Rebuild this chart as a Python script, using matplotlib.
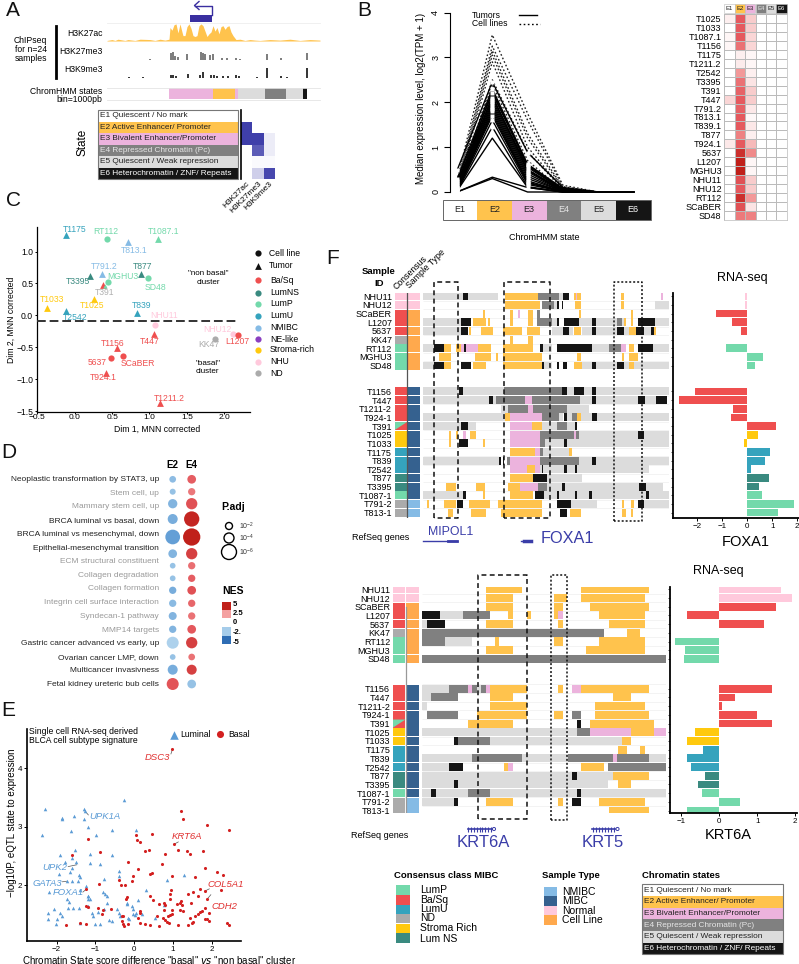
import matplotlib
matplotlib.use('Agg')
import numpy as np
import matplotlib.pyplot as plt
from matplotlib.colors import LinearSegmentedColormap
from matplotlib.patches import Rectangle

plt.rcParams['font.family'] = ['Liberation Sans', 'DejaVu Sans']
plt.rcParams['mathtext.default'] = 'regular'
plt.rcParams['axes.unicode_minus'] = True

W, H = 799, 964

# chromatin states
state_names = ['E1 Quiescent / No mark', 'E2 Active Enhancer/ Promoter',
               'E3 Bivalent Enhancer/Promoter', 'E4 Repressed Chromatin (Pc)',
               'E5 Quiescent / Weak repression', 'E6 Heterochromatin / ZNF/ Repeats']
state_short = ['E1', 'E2', 'E3', 'E4', 'E5', 'E6']
state_colors = ['#FFFFFF', '#FFC34D', '#ECB3DD', '#808080', '#DCDCDC', '#151515']
state_text = ['#222222', '#222222', '#222222', '#E6E6E6', '#222222', '#FFFFFF']

# class colours
BASQ, LUMNS, LUMP, LUMU = '#EF4F4F', '#3A8A80', '#73D9AB', '#35A3BD'
NMIBC, NELIKE, STROMA, NHU, ND = '#85BBE5', '#8A3FC0', '#FFC90E', '#FFC9DC', '#ABABAB'
MIBC_C, NORMAL_C, CELL_C = '#35618F', '#FFC9DC', '#FFA94D'

# panel A
h3k27ac_pos = [107, 112, 115, 118, 125, 128, 135, 140, 150, 155, 160, 165, 169, 170, 172, 174, 176, 178, 180,
               182, 183, 185, 187, 189, 191, 193, 195, 197, 199, 201, 203, 205, 207, 209, 211, 213, 215, 217,
               219, 221, 223, 225, 227, 229, 231, 233, 236, 240, 245, 250, 255, 260, 270, 280, 290, 300, 310, 320]
h3k27ac_val = [.03, .08, .03, .1, .03, .08, .03, .1, .08, .03, .1, .05, .1, .75, .6, .9, .95, .45, .95, .5,
               .3, .3, .8, .95, .7, .3, .25, .3, .85, .95, .85, .55, .25, .4, .5, .85, .55, .75, .4, .8, .85,
               .65, .8, .85, .5, .3, .08, .1, .03, .08, .05, .03, .08, .05, .1, .03, .08, .05]
h3k27me3_pos = [150, 171, 173, 175, 178, 187, 201, 203, 205, 210, 213, 222, 227, 236, 240, 267, 281, 307]
h3k27me3_val = [.1, .8, .9, .4, .3, .6, .9, .8, .7, .5, .6, .2, .2, .2, .1, .65, .2, .75]
h3k9me3_pos = [129, 143, 171, 173, 176, 188, 200, 203, 211, 214, 217, 223, 228, 236, 239, 257, 267, 281, 287, 307]
h3k9me3_val = [.1, .05, .3, .25, .2, .4, .3, .6, .3, .25, .2, .2, .2, .3, .2, .05, 1, .2, .1, 1]
hmm_start = [169, 213, 235, 238, 265, 286, 303]
hmm_end = [213, 235, 238, 265, 286, 303, 307]
hmm_state = [2, 1, 2, 4, 3, 4, 5]
marks = ['H3K27ac', 'H3K27me3', 'H3K9me3']
emission = [[0, 0, 0], [1, 0, 0], [1, 1, .1], [0, .85, .1], [0, .03, .03], [0, .25, .95]]

# panel B
tumor_e1 = [.48, .28, .25, .2, .15, .12, .1, .08, .06, .05, .04, .03, .02, .02, .0, .0, .1, .06, .04]
tumor_e2 = [2.45, 2.3, 2.2, 2.1, 2.05, 2.0, 1.95, 1.9, 1.85, 1.8, 1.7, 1.6, 1.45, 1.2, .33, .3, 2.25, 2.15, 1.75]
tumor_e3 = [.88, .62, .6, .55, .5, .45, .4, .35, .3, .25, .2, .17, .12, .1, .1, .0, .58, .48, .22]
tumor_e4 = [.1, .08, .06, .05, .04, .03, .03, .02, .02, .01, .01, .01, 0, 0, 0, 0, .04, .03, .01]
cell_e1 = [.25, .2, .15, .1, .05, .02, .05, .02]
cell_e2 = [3.5, 3.25, 3.15, 3.05, 2.9, 2.5, 2.4, 2.3]
cell_e3 = [1.75, 1.6, 1.3, 1.2, 1.0, .9, .7, .5]
cell_e4 = [.15, .12, .1, .08, .06, .05, .03, .02]
heat_samples = ['T1025', 'T1033', 'T1087.1', 'T1156', 'T1175', 'T1211.2', 'T2542', 'T3395', 'T391', 'T447',
                'T791.2', 'T813.1', 'T839.1', 'T877', 'T924.1', '5637', 'L1207', 'MGHU3', 'NHU11', 'NHU12',
                'RT112', 'SCaBER', 'SD48']
heat_e1 = [.05, 0, .03, .03, 0, 0, 0, 0, 0, .12, 0, 0, 0, 0, .07, 0, 0, 0, 0, 0, 0, 0, 0]
heat_e2 = [.65, .65, .65, .5, .05, .06, .3, .5, .6, .65, .6, .65, .65, .4, .65, .9, 1, 1, .7, .65, .9, .7, .45]
heat_e3 = [.15, .15, .12, .12, .03, .03, .05, .08, .15, .15, .07, .02, .07, .05, .2, .35, .03, .03, .15, .15,
           .3, .08, .4]

# panel C
c_names = ['T1175', 'RT112', 'T813.1', 'T1087.1', 'T791.2', 'T877', 'T3395', 'MGHU3', 'T391', 'SD48', 'T1033',
           'T1025', 'T2542', 'T839', 'NHU11', 'T447', 'NHU12', 'L1207', 'KK47', 'T1156', '5637', 'SCaBER',
           'T924.1', 'T1211.2']
c_x = [-.12, .43, .71, 1.12, .36, .89, .20, .45, .38, .98, -.37, .26, -.12, .83, 1.07, 1.06, 2.12, 2.19, 1.87,
       .56, .49, .64, .42, 1.14]
c_y = [1.26, 1.20, 1.15, 1.20, .65, .65, .62, .52, .48, .58, .12, .26, .07, .04, -.15, -.30, -.29, -.31, -.37,
       -.51, -.67, -.64, -.90, -1.38]
c_marker = ['^', 'o', '^', '^', '^', '^', '^', 'o', '^', 'o', '^', '^', '^', '^', 'o', '^', 'o', 'o', 'o', '^',
            'o', 'o', '^', '^']
c_color = [LUMU, LUMP, NMIBC, LUMP, NMIBC, LUMNS, LUMNS, LUMP, BASQ, LUMP, STROMA, STROMA, LUMU, LUMU, NHU, BASQ,
           NHU, BASQ, ND, BASQ, BASQ, BASQ, BASQ, BASQ]
c_label_x = [0, .42, .79, 1.19, .39, .91, .04, .64, .40, 1.08, -.30, .23, 0, .89, 1.19, 1.0, 1.91, 2.18, 1.79,
             .51, .30, .84, .38, 1.26]
c_label_y = [1.35, 1.31, 1.01, 1.31, .76, .76, .53, .61, .36, .43, .25, .15, -.04, .15, -.01, -.41, -.215, -.41,
             -.455, -.435, -.74, -.75, -.97, -1.30]
c_label_color = [LUMU, LUMP, NMIBC, LUMP, NMIBC, LUMNS, LUMNS, LUMP, '#B0B0B0', LUMP, STROMA, STROMA, LUMU, LUMU,
                 NHU, BASQ, NHU, BASQ, ND, BASQ, BASQ, BASQ, BASQ, BASQ]
legend_c_names = ['Ba/Sq', 'LumNS', 'LumP', 'LumU', 'NMIBC', 'NE-like', 'Stroma-rich', 'NHU', 'ND']
legend_c_colors = [BASQ, LUMNS, LUMP, LUMU, NMIBC, NELIKE, STROMA, NHU, ND]

# panel D
d_terms = ['Neoplastic transformation by STAT3, up', 'Stem cell, up', 'Mammary stem cell, up',
           'BRCA luminal vs basal, down', 'BRCA luminal vs mesenchymal, down', 'Epithelial-mesenchymal transition',
           'ECM structural constituent', 'Collagen degradation', 'Collagen formation',
           'Integrin cell surface interaction', 'Syndecan-1 pathway', 'MMP14 targets',
           'Gastric cancer advanced vs early, up', 'Ovarian cancer LMP, down', 'Multicancer invasivness',
           'Fetal kidney ureteric bub cells']
d_term_color = ['#222222', '#999999', '#999999', '#222222', '#222222', '#222222', '#999999', '#999999', '#999999',
                '#999999', '#999999', '#999999', '#222222', '#222222', '#222222', '#222222']
d_size_e2 = [6.7, 6, 9.3, 10, 14.7, 8.7, 5.7, 5.7, 7.3, 7.3, 8, 7.3, 12, 5.7, 10, 12]
d_size_e4 = [8.7, 7.3, 11.3, 15.3, 17.3, 11.3, 7.3, 7.3, 8.7, 7.3, 7.3, 8.7, 11.3, 6.7, 10, 8.7]
d_nes_e2 = [-2.2, -2, -2.5, -2.7, -3.2, -2.5, -2, -2, -2.7, -2.3, -2.5, -2.5, -1.5, -2, -2.7, 3.4]
d_nes_e4 = [3.2, 2.6, 3.5, 4.8, 5, 4, 2.8, 3.2, 3.5, 3, 2.7, 3.3, 4, 2.7, 4, -2]
padj_labels = ['$10^{-2}$', '$10^{-4}$', '$10^{-6}$']
padj_sizes = [7, 10, 15]

# panel E
lum_x = [-2.30, -2.38, -1.87, -1.86, -1.55, -1.29, -1.27, -1.29, -1.18, -1.64, -.98, -.56, -.25, .05, -1.52, -1.91,
         -1.60, -1.78, -1.50, -1.61, -1.93, -1.65, -1.42, -1.39, -1.15, -1.15, -.88, -.56, -.40, -.38, -1.74, -1.61,
         -1.44, -.77, -1.24, -2.20, -1.39, -1.20, -1.18, -1.20, -1.15, -.79, -.75, -.71, -1.74, -1.67, -1.57, -1.41,
         -1.70, -1.18, -2.22, -2.23, -2.07, -1.91, -1.87, -1.98, -2.01, -1.39, -1.08, -1.07, -1.02, -.88, -.92, -.77,
         -.71, -.66, -.56, -.45, -.40, -.36, -.17, -.19, -.15, -.12, -.06, -.03, -.02, .05, .09, .20, .31, .54, .76,
         .84, 1.30, .03]
lum_y = [3.30, 2.85, 3.15, 3.13, 3.18, 3.30, 3.27, 3.13, 3.00, 2.93, 2.85, 2.94, 3.45, 2.95, 2.60, 2.51, 2.47, 2.40,
         2.39, 2.29, 2.20, 2.22, 2.18, 2.15, 2.53, 2.38, 2.36, 2.51, 2.24, 2.16, 2.07, 2.08, 2.07, 2.10, 1.99, 1.88,
         1.92, 1.82, 1.81, 1.76, 1.76, 1.89, 1.86, 1.82, 1.77, 1.72, 1.62, 1.62, 1.62, 1.64, 1.52, 1.43, 1.60, 1.52,
         1.48, 1.42, 1.34, 1.35, 1.52, 1.48, 1.34, 1.34, 1.54, 1.60, 1.70, 1.41, 1.40, 1.60, 1.52, 1.48, 1.70, 1.68,
         1.45, 1.42, 1.64, 1.59, 1.51, 1.52, 1.75, 1.51, 1.92, 1.45, 1.66, 2.09, 2.18, 1.49]
bas_x = [.99, 1.20, 1.27, 1.87, 2.44, .47, .05, .07, .16, -1.20, 1.03, 1.12, .27, .39, .81, 1.36, 1.45, 1.79, -.88,
         -1.60, -.15, .73, .11, 1.82, 2.13, 2.29, .41, .46, .99, -.02, -.38, 1.56, -.90, -.34, -.23, -.06, .94, .93,
         -1.24, 1.38, 1.53, 1.69, 1.82, 2.24, .41, 1.66, 1.89, -.18, -.22, .49, .93, .65, .78, .81, 1.10, 1.19, 1.23,
         1.20, 1.46, -1.24, -1.20, -.93, -.81, -.59, .15, .77, .99, 1.19, 1.27, 1.82, 1.76, 1.70, 1.64, 1.56, 1.45,
         1.93, .99, .93, .87, .59, .14, -.83, -.28, -.32, .11, .74, .80, .84, 1.82, 1.88, 1.93, 1.51, 1.50, 1.12,
         1.40, .41, .63, .89, -1.76, -1.39, -1.24, -.31, -.28, -.26, -.15, .15, .27, 2.39, 2.44]
bas_y = [4.32, 3.26, 3.13, 3.02, 2.95, 2.88, 2.85, 2.78, 2.74, 2.79, 2.70, 2.61, 2.59, 2.60, 2.54, 2.58, 2.54, 2.58,
         2.57, 2.51, 2.39, 2.36, 2.28, 2.30, 2.22, 2.17, 2.20, 2.21, 2.16, 2.16, 2.09, 2.15, 2.03, 2.01, 2.01, 2.07,
         1.92, 1.86, 1.93, 1.86, 1.89, 1.94, 1.90, 1.92, 1.82, 1.81, 1.77, 1.80, 1.77, 1.75, 1.76, 1.68, 1.70, 1.66,
         1.68, 1.70, 1.66, 1.73, 1.70, 1.64, 1.63, 1.61, 1.58, 1.59, 1.56, 1.58, 1.58, 1.58, 1.57, 1.62, 1.57, 1.54,
         1.51, 1.48, 1.45, 1.53, 1.51, 1.49, 1.47, 1.48, 1.52, 1.51, 1.48, 1.48, 1.45, 1.44, 1.41, 1.38, 1.43, 1.42,
         1.40, 1.37, 1.35, 1.32, 1.32, 1.32, 1.31, 1.35, 1.32, 1.36, 1.34, 1.39, 1.34, 1.30, 1.34, 1.36, 1.34, 1.35,
         1.32]
gene_names = ['DSC3', 'UPK1A', 'KRT6A', 'UPK2', 'GATA3', 'FOXA1', 'COL5A1', 'CDH2']
gene_x = [.59, -.75, 1.37, -2.05, -2.25, -1.70, 2.37, 2.33]
gene_y = [4.18, 3.17, 2.83, 2.31, 2.03, 1.875, 2.02, 1.64]
gene_from_x = [.95, -1.18, 1.14, -1.70, -1.85, -1.32, 1.94, 1.98]
gene_from_y = [4.24, 3.20, 2.74, 2.32, 2.06, 1.885, 1.94, 1.84]
gene_to_x = [.99, -1.27, 1.03, -1.48, -1.74, -1.24, 1.82, 1.89]
gene_to_y = [4.32, 3.27, 2.70, 2.35, 2.07, 1.93, 1.90, 1.77]
gene_color = ['#E03030', '#5B9BD5', '#E03030', '#5B9BD5', '#5B9BD5', '#5B9BD5', '#E03030', '#E03030']

# panel F
f_samples = ['NHU11', 'NHU12', 'SCaBER', 'L1207', '5637', 'KK47', 'RT112', 'MGHU3', 'SD48', 'T1156', 'T447',
             'T1211-2', 'T924-1', 'T391', 'T1025', 'T1033', 'T1175', 'T839', 'T2542', 'T877', 'T3395', 'T1087-1',
             'T791-2', 'T813-1']
f_class = [NHU, NHU, BASQ, BASQ, BASQ, ND, LUMP, LUMP, LUMP, BASQ, BASQ, BASQ, BASQ, BASQ, STROMA, STROMA, LUMU,
           LUMU, LUMU, LUMNS, LUMNS, LUMP, ND, ND]
f_rna_colors = f_class[:22] + [LUMP, LUMP]
f_type = [NORMAL_C, NORMAL_C] + [CELL_C] * 7 + [MIBC_C] * 13 + [NMIBC] * 2
foxa1_rna = [-.1, -.1, -1.24, -.62, -.27, 0, -.87, .62, .31, -2.1, -2.75, -.56, -.65, 1.15, .43, -.15, .9, .71, .13,
             .87, .45, .6, 1.87, 1.23]
krt6a_rna = [1.63, 1.92, 1.5, -.84, 1.18, 0, -1.16, -.89, -.93, 1.39, .41, .07, .99, 1.39, -.65, -.84, -.44, -.86,
             -.74, -.37, -.57, -.45, .55, -.84]

foxa1_segs = [
    [(309, 534, 5), (428, 444, 6), (555, 655, 2), (655, 716, 4), (716, 730, 5), (730, 746, 6), (762, 768, 2),
     (768, 772, 3), (772, 782, 2), (902, 913, 2), (1023, 1029, 3)],
    [(555, 660, 2), (665, 702, 4), (702, 710, 5), (712, 717, 6), (725, 730, 6), (766, 782, 2), (902, 913, 2),
     (1004, 1046, 5)],
    [(489, 494, 2), (570, 580, 2), (595, 600, 3), (625, 640, 2), (650, 660, 4), (777, 782, 2), (933, 938, 2)],
    [(309, 423, 5), (423, 454, 6), (459, 498, 2), (504, 510, 2), (570, 580, 2), (625, 640, 2), (650, 695, 4),
     (695, 712, 5), (712, 717, 6), (731, 777, 6), (777, 816, 5), (816, 827, 6), (827, 892, 5), (892, 907, 4),
     (907, 912, 5), (912, 918, 2), (933, 938, 2), (953, 1004, 6), (1004, 1046, 5)],
    [(309, 423, 5), (423, 444, 6), (448, 453, 2), (484, 520, 2), (550, 605, 2), (620, 660, 2), (695, 730, 5),
     (730, 746, 6), (746, 760, 5), (762, 782, 2), (786, 816, 5), (816, 827, 6), (827, 892, 5), (892, 913, 6),
     (913, 927, 5), (927, 948, 2), (948, 973, 6), (973, 993, 5), (993, 1003, 6), (1003, 1008, 2)],
    [(570, 580, 2), (625, 640, 2)],
    [(309, 342, 5), (342, 373, 6), (373, 393, 2), (408, 423, 2), (423, 433, 3), (433, 438, 6), (438, 473, 3),
     (473, 514, 2), (550, 640, 2), (660, 670, 6), (670, 695, 5), (711, 817, 6), (817, 868, 5), (868, 903, 4),
     (903, 918, 3), (927, 943, 2), (953, 999, 6), (999, 1046, 5)],
    [(358, 394, 2), (464, 514, 2), (528, 534, 2), (550, 666, 2), (771, 782, 2), (907, 912, 2), (927, 953, 2)],
    [(309, 342, 5), (342, 373, 6), (373, 393, 2), (423, 454, 6), (459, 498, 2), (550, 666, 2), (666, 671, 6),
     (671, 696, 5), (712, 717, 6), (730, 741, 6), (762, 787, 2), (787, 816, 5), (816, 827, 6), (827, 892, 5),
     (892, 913, 6), (913, 927, 5), (927, 943, 2), (943, 1046, 5)],
    [(309, 418, 5), (418, 428, 6), (428, 553, 5), (553, 726, 4), (726, 742, 6), (742, 761, 5), (761, 792, 6),
     (792, 816, 5), (816, 827, 6), (827, 1046, 5)],
    [(309, 508, 5), (508, 519, 6), (519, 529, 5), (529, 615, 4), (615, 635, 3), (635, 781, 4), (781, 816, 5),
     (816, 827, 6), (827, 953, 5), (953, 974, 6), (974, 1008, 5), (1008, 1040, 6)],
    [(544, 564, 5), (564, 625, 4), (625, 640, 3), (640, 741, 4), (741, 807, 5)],
    [(309, 555, 5), (555, 570, 2), (570, 666, 3), (666, 716, 4), (716, 730, 5), (731, 741, 6), (741, 756, 5),
     (756, 771, 4), (771, 782, 2), (782, 816, 5), (816, 832, 6), (832, 1046, 5)],
    [(309, 423, 5), (423, 444, 6), (444, 468, 5), (570, 635, 3), (635, 666, 2), (666, 711, 5), (711, 741, 4),
     (741, 766, 5), (766, 771, 6)],
    [(388, 393, 2), (408, 413, 2), (428, 438, 3), (449, 469, 2), (570, 660, 3), (660, 761, 4), (761, 767, 3),
     (767, 777, 4), (777, 953, 5), (953, 973, 6), (973, 1046, 5)],
    [(388, 393, 2), (418, 444, 6), (489, 494, 2), (570, 660, 3), (660, 675, 4), (675, 731, 5), (731, 741, 6),
     (741, 1046, 5)],
    [(570, 646, 2), (646, 660, 3), (660, 670, 4), (670, 746, 5), (746, 756, 2)],
    [(309, 538, 5), (538, 544, 6), (548, 553, 6), (560, 570, 4), (570, 660, 3), (660, 777, 4), (777, 816, 5),
     (816, 827, 6), (827, 1046, 5)],
    [(570, 620, 3), (620, 646, 2), (646, 660, 3), (660, 665, 5), (665, 670, 6), (670, 731, 5), (731, 741, 6),
     (741, 766, 5), (766, 771, 6), (771, 988, 5)],
    [(570, 640, 2), (640, 681, 6), (681, 786, 5)],
    [(378, 408, 2), (468, 494, 2), (565, 600, 2), (600, 655, 3), (655, 681, 4), (681, 726, 5), (726, 736, 6),
     (736, 958, 5), (958, 978, 6), (978, 1029, 5)],
    [(309, 428, 5), (428, 438, 6), (489, 494, 2), (570, 640, 2), (645, 671, 6), (671, 711, 5), (711, 716, 6),
     (716, 766, 5), (766, 771, 6), (771, 806, 5), (806, 817, 6), (817, 978, 5), (978, 988, 6), (988, 1046, 5)],
    [(322, 327, 2), (373, 408, 2), (411, 428, 6), (448, 509, 2), (534, 666, 2), (711, 752, 6), (752, 832, 5),
     (907, 912, 2), (933, 943, 2), (953, 973, 6), (973, 1046, 5)],
    [(384, 398, 2), (453, 498, 2), (544, 666, 2), (721, 741, 6), (751, 782, 2), (907, 918, 2), (933, 938, 2)],
]
krt6a_segs = [
    [(497, 606, 2), (783, 988, 2)],
    [(497, 579, 2), (702, 742, 2), (783, 974, 2)],
    [(497, 579, 2), (702, 729, 2), (810, 988, 2)],
    [(306, 360, 6), (360, 429, 5), (429, 510, 4), (565, 579, 2), (620, 633, 2), (702, 715, 2), (715, 729, 3),
     (838, 974, 2)],
    [(306, 320, 5), (320, 374, 6), (497, 579, 2), (715, 729, 2), (866, 974, 2)],
    [(306, 851, 4), (920, 960, 2)],
    [(306, 374, 4), (374, 456, 5), (524, 538, 2), (702, 729, 2), (838, 974, 2)],
    [(497, 579, 2), (797, 974, 2)],
    [(306, 1037, 4)],
    [(306, 388, 5), (388, 443, 4), (443, 456, 3), (456, 470, 4), (470, 483, 5), (483, 497, 4), (497, 510, 3),
     (510, 620, 2), (715, 729, 2), (756, 783, 3), (783, 988, 2)],
    [(306, 333, 5), (333, 415, 4), (510, 579, 2), (879, 933, 2)],
    [(306, 320, 5), (510, 620, 2), (825, 974, 2)],
    [(320, 415, 4), (470, 620, 2), (702, 729, 2), (756, 783, 4), (825, 988, 2)],
    [(443, 579, 2), (770, 783, 6), (810, 1002, 2)],
    [(306, 770, 5), (770, 810, 4), (810, 933, 3), (933, 1002, 2), (1002, 1037, 3)],
    [(401, 415, 6), (415, 510, 4), (510, 906, 5), (906, 933, 2)],
    [(893, 920, 2), (960, 974, 2)],
    [(306, 456, 5), (456, 606, 4), (606, 743, 5), (743, 879, 4), (879, 892, 3), (892, 988, 4), (988, 1037, 5)],
    [(306, 388, 5), (388, 429, 6), (551, 565, 2), (565, 579, 3), (783, 851, 2), (865, 1037, 4)],
    [(306, 756, 5), (756, 770, 6), (770, 879, 5), (879, 988, 2)],
    [(306, 401, 5), (401, 415, 6), (415, 865, 5), (893, 933, 2)],
    [(306, 333, 5), (333, 347, 6), (347, 443, 5), (443, 510, 4), (510, 770, 5), (770, 783, 6), (783, 1037, 5)],
    [(306, 401, 5), (401, 415, 6), (497, 579, 2), (715, 729, 2), (756, 783, 6), (838, 974, 2)],
    [(866, 988, 2)],
]
legend_class_names = ['LumP', 'Ba/Sq', 'LumU', 'ND', 'Stroma Rich', 'Lum NS']
legend_class_colors = [LUMP, BASQ, LUMU, ND, STROMA, LUMNS]
legend_type_names = ['NMIBC', 'MIBC', 'Normal', 'Cell Line']
legend_type_colors = [NMIBC, MIBC_C, NORMAL_C, CELL_C]

BLUE_GENE = '#3A3DA8'


def ax_px(l, t, r, b):
    return fig.add_axes([l / W, 1 - b / H, (r - l) / W, (b - t) / H])


def txt(x, y, s, size=6.5, ha='left', va='center', **kw):
    return ov.text(x, y, s, fontsize=size, ha=ha, va=va, **kw)


def state_table(l, t, r, row_h, size):
    for i, name in enumerate(state_names):
        ov.add_patch(Rectangle((l, t + i * row_h), r - l, row_h, fc=state_colors[i], ec='none'))
        txt(l + 1.5, t + (i + .5) * row_h, name, size=size, color=state_text[i])
    ov.add_patch(Rectangle((l, t), r - l, 6 * row_h, fc='none', ec='#777777', lw=.8))


fig = plt.figure(figsize=(W / 100, H / 100), dpi=100)

# ---- A
ax = ax_px(107, 23, 320, 41)
ax.fill_between(h3k27ac_pos, h3k27ac_val, color='#FFC34D', lw=0)
ax.set_xlim(107, 320)
ax.set_ylim(0, 1)
ax.axis('off')
ax = ax_px(107, 51, 320, 59.5)
ax.vlines(h3k27me3_pos, 0, h3k27me3_val, color='#666666', lw=1.2)
ax.set_xlim(107, 320)
ax.set_ylim(0, 1)
ax.axis('off')
ax = ax_px(107, 68, 320, 77.5)
ax.vlines(h3k9me3_pos, 0, h3k9me3_val, color='#111111', lw=1.2)
ax.set_xlim(107, 320)
ax.set_ylim(0, 1)
ax.axis('off')
ax = ax_px(107, 88, 320, 99)
ax.barh(0.5, np.array(hmm_end) - np.array(hmm_start), left=hmm_start, height=1,
        color=[state_colors[s] for s in hmm_state])
ax.set_xlim(107, 320)
ax.set_ylim(0, 1)
ax.axis('off')

# emission heatmap
ax = ax_px(240.7, 110, 275, 179)
cm_em = LinearSegmentedColormap.from_list('em', ['#FFFFFF', '#3F3FAA'])
ax.pcolormesh(np.array(emission), cmap=cm_em, vmin=0, vmax=1)
ax.set_ylim(6, 0)
ax.set_yticks([])
ax.set_xticks([.5, 1.5, 2.5])
ax.set_xticklabels(marks, rotation=45, ha='right', rotation_mode='anchor', fontsize=6)
ax.tick_params(axis='x', length=0, pad=1)
for s in ['top', 'right', 'bottom']:
    ax.spines[s].set_visible(False)
ax.spines['left'].set_linewidth(1.2)

# ---- B
ax = ax_px(450, 12.5, 650, 192)
xs_b = np.arange(6)
for e1, e2, e3, e4 in zip(tumor_e1, tumor_e2, tumor_e3, tumor_e4):
    ax.plot(xs_b, [e1, e2, e3, e4, 0, 0], color='black', lw=1.0, clip_on=False, zorder=3)
for e1, e2, e3, e4 in zip(cell_e1, cell_e2, cell_e3, cell_e4):
    ax.plot(xs_b, [e1, e2, e3, e4, 0, 0], color='#222222', lw=1.0, ls=(0, (1.2, 1.6)), clip_on=False, zorder=2)
for e1, e2, e3 in zip(tumor_e1[:13], tumor_e2[:13], tumor_e3[:13]):
    ax.plot(xs_b[:3], [e1, e2, e3], ls='none', marker='s', ms=2.2, mfc='white', mec='none', clip_on=False, zorder=4)
ax.set_xlim(-7 / 35.3, 193 / 35.3)
ax.set_ylim(0, 4)
ax.set_yticks([0, 1, 2, 3, 4])
ax.tick_params(axis='y', labelsize=6.5, length=4, width=.8, pad=3, labelrotation=90)
for lab in ax.get_yticklabels():
    lab.set_va('center')
ax.set_xticks([])
for s in ['top', 'right', 'bottom']:
    ax.spines[s].set_visible(False)
ax.spines['left'].set_linewidth(.8)
ax.patch.set_alpha(0)

# B heatmap
ax = ax_px(724.3, 14, 786.7, 220)
cm_h = LinearSegmentedColormap.from_list('hh', ['#FFFFFF', '#F08C8C', '#E4575C', '#C0201A'])
heat = np.column_stack([heat_e1, heat_e2, heat_e3, np.zeros(23), np.zeros(23), np.zeros(23)])
ax.pcolormesh(heat, cmap=cm_h, vmin=0, vmax=1, edgecolors='#BBBBBB', linewidth=.5)
ax.set_ylim(23, 0)
ax.set_xticks([])
ax.set_yticks(np.arange(23) + .5)
ax.set_yticklabels(heat_samples, fontsize=6.5)
ax.tick_params(axis='y', length=0, pad=2)
for s in ax.spines.values():
    s.set_color('#BBBBBB')
    s.set_linewidth(.5)

# ---- C
ax = ax_px(37.3, 226.7, 249.7, 412.3)
for x, y, m, col in zip(c_x, c_y, c_marker, c_color):
    ax.scatter(x, y, marker=m, s=24 if m == '^' else 20, color=col, lw=0, zorder=3)
ax.scatter([.40], [.46], marker='^', s=10, color=LUMP, lw=0, zorder=3)
for x, y, s, col in zip(c_label_x, c_label_y, c_names, c_label_color):
    ax.text(x, y, s, color=col, fontsize=6.2, ha='center', va='center', zorder=4)
ax.plot([-.5, 2.2], [-.085, -.085], color='#333333', lw=1.4, ls=(0, (4.5, 2)), zorder=5)
ax.text(1.79, .585, '"non basal"\ncluster', fontsize=5.8, ha='center', va='center', linespacing=1.25)
ax.text(1.78, -.82, '"basal"\ncluster', fontsize=5.8, ha='center', va='center', linespacing=1.25)
ax.set_xlim(-.496, 2.34)
ax.set_ylim(-1.52, 1.39)
ax.set_xticks([-.5, 0, .5, 1, 1.5, 2])
ax.set_xticklabels(['\u22120.5', '0.0', '0.5', '1.0', '1.5', '2.0'])
ax.set_yticks([-1.5, -1, -.5, 0, .5, 1])
ax.set_yticklabels(['\u22121.5', '\u22121.0', '\u22120.5', '0.0', '0.5', '1.0'])
ax.tick_params(labelsize=6.2, length=1.5, width=.7, pad=1.5)
ax.tick_params(axis='x', labelsize=6, pad=0)
for s in ['top', 'right']:
    ax.spines[s].set_visible(False)
ax.spines['left'].set_linewidth(.9)
ax.spines['bottom'].set_linewidth(.9)

# ---- D
ax = ax_px(160, 470, 205, 695)
d_row_y = [479.3, 491.7, 503.7, 519, 537, 553.7, 565.7, 578.3, 590.3, 603.3, 616, 629.3, 642.7, 657, 669.7, 684]
cm_nes = LinearSegmentedColormap.from_list('nes', ['#2E6DB4', '#5E9BD4', '#A5CCEA', '#FFFFFF', '#F4A0A0', '#E4575C',
                                                   '#C0201A'])
ax.scatter(np.full(16, 172.7), d_row_y, s=(np.array(d_size_e2) * .72) ** 2, c=d_nes_e2, cmap=cm_nes, vmin=-5, vmax=5,
           lw=0, clip_on=False)
ax.scatter(np.full(16, 191.7), d_row_y, s=(np.array(d_size_e4) * .72) ** 2, c=d_nes_e4, cmap=cm_nes, vmin=-5, vmax=5,
           lw=0, clip_on=False)
ax.set_xlim(160, 205)
ax.set_ylim(695, 470)
ax.axis('off')

# ---- E
ax = ax_px(26.7, 729.3, 240.7, 940.7)
ax.scatter(lum_x, lum_y, marker='^', s=6.5, color='#5B9BD5', lw=0, zorder=3)
ax.scatter(bas_x, bas_y, marker='o', s=5, color='#D32020', lw=0, zorder=3)
for i, g in enumerate(gene_names):
    ax.text(gene_x[i], gene_y[i], g, color=gene_color[i], style='italic', fontsize=6.8, ha='center', va='center')
    ax.plot([gene_from_x[i], gene_to_x[i]], [gene_from_y[i], gene_to_y[i]], color='#555555', lw=.5, zorder=2)
ax.set_xlim(-2.77, 2.75)
ax.set_ylim(1.056, 4.66)
ax.set_xticks([-2, -1, 0, 1, 2])
ax.set_xticklabels(['\u22122', '\u22121', '0', '1', '2'])
ax.set_yticks([2, 3, 4])
ax.tick_params(labelsize=5.8, length=2, width=.7, pad=1.5)
for s in ['top', 'right']:
    ax.spines[s].set_visible(False)
ax.spines['left'].set_linewidth(1.2)
ax.spines['bottom'].set_linewidth(1.2)


# ---- F
def draw_f(segs, rna, rows, px_top, px_bot, x0, x1, track_l, track_r, strip_l, strip_r, rna_l, rna_r, unit, zero,
           boxes, box_top, line_col, line_from):
    y0 = rows[0] - (rows_top_px - px_top) / row_px
    y1 = rows[0] + (px_bot - rows_top_px) / row_px
    tr = ax_px(track_l, px_top, track_r, px_bot)
    tr.hlines(np.array(rows) - .5, x0, x1, color='#EEEEEE', lw=.5, zorder=0)
    for r, row_segs in zip(rows, segs):
        for s, e, st in row_segs:
            tr.broken_barh([(s, e - s)], (r - .46, .92), facecolors=state_colors[st - 1], zorder=2)
    for bx0, bx1, bbot, ls in boxes:
        tr.plot([bx0, bx0, bx1, bx1, bx0], [bbot, box_top, box_top, bbot, bbot], color='#111111', lw=1.1, ls=ls,
                clip_on=False, zorder=5)
    tr.set_xlim(x0, x1)
    tr.set_ylim(y1, y0)
    tr.axis('off')

    st = ax_px(strip_l, px_top, strip_r, px_bot)
    st.barh(rows, [1] * 24, left=0, height=.93, color=f_class)
    st.barh(rows, [1] * 24, left=1.06, height=.93, color=f_type)
    r391 = rows[13]
    st.fill([0, 1, 0], [r391 - .46, r391 - .46, r391 + .46], color=LUMP, lw=0, zorder=3)
    st.plot([1.03, 1.03], [line_from, rows[-1] + .5], color=line_col, lw=.9, zorder=4)
    st.set_xlim(0, 2.06)
    st.set_ylim(y1, y0)
    st.set_yticks(rows)
    st.set_yticklabels(f_samples, fontsize=6.5)
    st.tick_params(axis='y', length=0, pad=2)
    st.set_xticks([])
    for sp in st.spines.values():
        sp.set_visible(False)
    st.patch.set_alpha(0)

    rn = ax_px(rna_l, px_top, rna_r, px_bot)
    rn.barh(rows, rna, height=.9, color=f_rna_colors)
    rn.set_xlim((rna_l - zero) / unit, (rna_r - zero) / unit)
    rn.set_ylim(y1, y0)
    rn.set_yticks(rows)
    rn.set_yticklabels([])
    rn.tick_params(axis='y', length=1.5, width=.5)
    rn.tick_params(axis='x', length=2, width=.7, labelsize=5.8, pad=1.5)
    for s in ['top', 'right']:
        rn.spines[s].set_visible(False)
    rn.spines['left'].set_linewidth(1.3)
    rn.spines['bottom'].set_linewidth(1.3)
    return rn


dash = (0, (3.2, 2.2))
dot = (0, (1.3, 1.3))
rows_top_px, row_px = 296.3, 8.65
rows1 = list(range(9)) + list(range(11, 26))
rn = draw_f(foxa1_segs, foxa1_rna, rows1, 292.7, 518.3, 309, 1046, 423, 668.7, 394.7, 420, 673.3, 799, 25, 747.3,
            [(341, 414, 25.6, dash), (551, 691, 25.6, dash), (883, 967, 25.95, dot)], -1.65, '#555555', -.4)
rn.set_xticks([-2, -1, 0, 1, 2])
rn.set_xticklabels(['\u22122', '\u22121', '0', '1', '2'])

rows_top_px, row_px = 589.3, 8.7
rows2 = list(range(9)) + [11.43 + j for j in range(15)]
rn = draw_f(krt6a_segs, krt6a_rna, rows2, 586.7, 813.3, 306, 1037, 422, 665.7, 393, 418.7, 670.3, 796.7, 38, 719.3,
            [(474, 622, 26.4, dash), (694, 742, 26.5, dot)], -1.64, '#999999', 2)
rn.set_xticks([-1, 0, 1, 2])
rn.set_xticklabels(['\u22121', '0', '1', '2'])

# ---- overlay for annotations
ov = fig.add_axes([0, 0, 1, 1], zorder=20)
ov.set_xlim(0, W)
ov.set_ylim(H, 0)
ov.axis('off')
ov.patch.set_alpha(0)

for s, x, y in [('A', 6, 10), ('B', 357, 10), ('C', 6, 201), ('D', 1, 452), ('E', 1, 711), ('F', 326, 258)]:
    txt(x, y, s, size=15, color='#111111')

# A annotations
ov.add_patch(Rectangle((190, 15), 22, 6.5, fc='#3A2FA0', ec='none'))
ov.plot([211.5, 211.5, 195], [15, 5.5, 5.5], color='#3A2FA0', lw=1)
ov.plot([199, 194.5, 199], [1.5, 5.5, 9.5], color='#3A2FA0', lw=1)
ov.plot([56, 56], [26, 78], color='black', lw=2)
ov.plot([107, 320], [23, 23], color='#EEEEEE', lw=.6)
ov.plot([107, 320], [87.5, 87.5], color='#E4E4E4', lw=.6)
ov.plot([107, 320], [99.5, 99.5], color='#E4E4E4', lw=.6)
txt(47.5, 49.5, 'ChIPseq\nfor n=24\nsamples', size=6.2, ha='right', linespacing=1.05)
for s, y in zip(marks, [34, 52, 69.5]):
    txt(102.5, y, s, size=6.2, ha='right')
txt(102, 91, 'ChromHMM states', size=6.2, ha='right')
txt(102, 100, 'bin=1000pb', size=6.2, ha='right')
state_table(98, 110, 238, 11.5, 5.95)
txt(83, 142, 'State', size=8.5, rotation=90, ha='center')

# B annotations
txt(472, 15, 'Tumors', size=6.2)
txt(472, 23.5, 'Cell lines', size=6.2)
ov.plot([519, 537], [15, 15], color='black', lw=1)
ov.plot([519, 540], [24, 24], color='black', lw=1, ls=(0, (1.2, 1.8)))
txt(421, 98.5, 'Median expression level, log2(TPM + 1)', size=7.05, rotation=90, ha='center')
txt(544, 237, 'ChromHMM state', size=6.5, ha='center')
for i in range(6):
    l = 442.5 + i * 34.67
    ov.add_patch(Rectangle((l, 199.5), 34.67, 20, fc=state_colors[i], ec='none'))
    txt(l + 17.3, 209.5, state_short[i], size=6.5, ha='center', color=state_text[i])
ov.add_patch(Rectangle((442.5, 199.5), 208, 20, fc='none', ec='#666666', lw=.7))
for i in range(6):
    l = 724.3 + i * 10.4
    ov.add_patch(Rectangle((l, 4), 10.4, 9.3, fc=state_colors[i], ec='#BBBBBB', lw=.4))
    txt(l + 5.2, 9, state_short[i], size=4.3, ha='center', color=state_text[i])

# C legend and axis titles
txt(157, 429, 'Dim 1, MNN corrected', size=6.2, ha='center')
txt(11, 320, 'Dim 2, MNN corrected', size=6.2, ha='center', rotation=90)
ov.scatter([258], [253], marker='o', s=20, color='#111111', lw=0)
txt(268.7, 253, 'Cell line', size=6.2)
ov.scatter([258], [266], marker='^', s=24, color='#111111', lw=0)
txt(268.7, 266, 'Tumor', size=6.2)
for s, col, y in zip(legend_c_names, legend_c_colors, [280.3, 292.7, 304, 316, 328, 339, 350, 361.7, 373]):
    ov.scatter([258], [y], marker='o', s=20, color=col, lw=0)
    txt(270, y, s, size=6.2)

# D texts
for s, col, y in zip(d_terms, d_term_color, [479.3, 493.3, 507, 520.7, 534.3, 548, 561.7, 575.7, 589, 602.7, 616.3,
                                            630, 643.7, 657.3, 671, 684.7]):
    txt(159, y, s, size=6.05, ha='right', color=col)
txt(172.7, 465.3, 'E2', size=7, ha='center', weight='bold')
txt(191.7, 465.3, 'E4', size=7, ha='center', weight='bold')
txt(232.7, 506.7, 'P.adj', size=7.5, ha='center', weight='bold')
for lab, d, y in zip(padj_labels, padj_sizes, [526, 538, 552]):
    ov.scatter([229], [y], s=(d * .72) ** 2, fc='none', ec='black', lw=1)
    txt(239, y, lab, size=5, color='#333333')
txt(232.7, 590.7, 'NES', size=7.5, ha='center', weight='bold')
nes_cols = ['#C0201A', '#F4A0A0', '#FFFFFF', '#A5CCEA', '#2E6DB4']
for col, t, b in zip(nes_cols, [601.7, 610, 618.3, 626.7, 635.7], [610, 618.3, 626.7, 635.7, 644.3]):
    ov.add_patch(Rectangle((222, t), 9, b - t, fc=col, ec='none'))
for s, y in zip(['5', '2.5', '0', '-2.', '-5'], [605, 613.3, 622.7, 632, 642.7]):
    txt(233, y, s, size=5.5, weight='bold')

# E texts
txt(159.5, 959.5, 'Chromatin State score difference "basal" $\\mathit{vs}$ "non basal" cluster', size=7, ha='center')
txt(12.5, 823, '\u2212log10P, eQTL state to expression', size=7, ha='center', rotation=90)
txt(29.3, 736, 'Single cell RNA-seq derived\nBLCA cell subtype signature', size=6.2, linespacing=1.12)
ov.scatter([174], [734.5], marker='^', s=38, color='#5B9BD5', lw=0)
txt(180.7, 734.5, 'Luminal', size=6.2)
ov.scatter([220], [734], marker='o', s=26, color='#D32020', lw=0)
txt(228, 734.5, 'Basal', size=6.2)

# F texts
txt(378.7, 271.7, 'Sample', size=6.8, ha='center', weight='bold')
txt(378.7, 283.3, 'ID', size=6.8, ha='center', weight='bold')
ov.text(398, 291, 'Consensus', fontsize=6.3, rotation=45, ha='left', va='bottom', rotation_mode='anchor')
ov.text(411, 290, 'Sample Type', fontsize=6.3, rotation=45, ha='left', va='bottom', rotation_mode='anchor')
txt(742, 278.3, 'RNA-seq', size=9, ha='center')
txt(718.7, 570.7, 'RNA-seq', size=9, ha='center')
txt(746, 542.3, 'FOXA1', size=10.5, ha='center')
txt(728, 835, 'KRT6A', size=10.5, ha='center')
txt(351.7, 538, 'RefSeq genes', size=6.5)
txt(350.7, 836, 'RefSeq genes', size=6.5)
txt(450.7, 532.3, 'MIPOL1', size=8.9, ha='center', color=BLUE_GENE)
txt(567.7, 538.3, 'FOXA1', size=11.7, ha='center', color=BLUE_GENE)
txt(483.3, 842.7, 'KRT6A', size=12, ha='center', color=BLUE_GENE)
txt(602.7, 842.7, 'KRT5', size=12, ha='center', color=BLUE_GENE)
ov.plot([423, 456.7], [541, 541], color=BLUE_GENE, lw=1)
ov.plot([448, 456.7], [541, 541], color=BLUE_GENE, lw=2)
ov.plot([521, 531], [541, 541], color=BLUE_GENE, lw=1)
ov.plot([524, 531], [541, 541], color=BLUE_GENE, lw=2.5)
ov.plot([467.7, 492], [829, 829], color=BLUE_GENE, lw=1.2)
ov.vlines(np.linspace(468, 491, 9), 826.5, 831.5, color=BLUE_GENE, lw=.8)
ov.plot([592.3, 615], [829, 829], color=BLUE_GENE, lw=1.2)
ov.vlines(np.linspace(593, 614, 8), 826.5, 831.5, color=BLUE_GENE, lw=.8)
ov.scatter([494, 617.5], [829, 829], s=5, fc='none', ec=BLUE_GENE, lw=.7)

# F legends
txt(394, 875, 'Consensus class MIBC', size=6.8, weight='bold')
for s, col, t, b, y in zip(legend_class_names, legend_class_colors, [885, 895, 905, 914.3, 923.7, 933.3],
                           [894.7, 904.7, 914.3, 923.3, 933.3, 942.7], [890, 899.7, 909, 918.3, 928, 939]):
    ov.add_patch(Rectangle((396, t), 14, b - t, fc=col, ec='none'))
    txt(419.7, y, s, size=7.5)
txt(542, 875, 'Sample Type', size=6.8, weight='bold')
for s, col, t, b, y in zip(legend_type_names, legend_type_colors, [886.7, 896, 906, 915.3],
                           [896, 906, 915.3, 924.7], [891.7, 901, 910.7, 920]):
    ov.add_patch(Rectangle((543.7, t), 13.6, b - t, fc=col, ec='none'))
    txt(561.7, y, s, size=7.5)
txt(642.3, 875, 'Chromatin states', size=6.8, weight='bold')
state_table(642.3, 884.3, 782.7, 11.67, 5.95)

fig.savefig('out.png', dpi=100)
